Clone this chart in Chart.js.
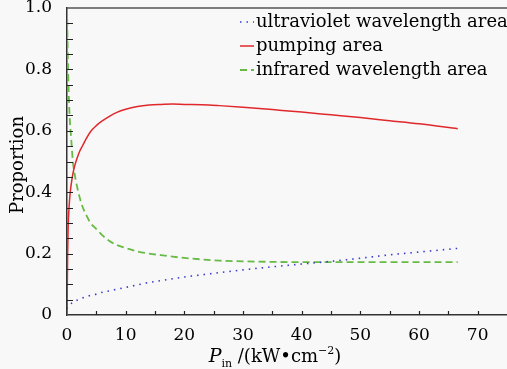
<!DOCTYPE html>
<html>
<head>
<meta charset="utf-8">
<script src="https://cdn.jsdelivr.net/npm/chart.js@4.4.0/dist/chart.umd.min.js"></script>
<style>
  html, body { margin: 0; padding: 0; background: #f8f8f8; }
  #wrap { width: 507px; height: 369px; overflow: hidden; }
</style>
</head>
<body>
<div id="wrap"><canvas id="chart" width="507" height="369"></canvas></div>
<script>
// values
const power = [0, 0.1, 0.2, 0.35, 0.5, 0.75, 1, 1.3, 1.7, 2.2, 2.7, 3.3, 4, 5, 6, 7.3, 8.5, 10, 12, 14, 16, 18, 20, 23, 26, 30, 35, 40, 45, 50, 55, 60, 66.6];
const ultraviolet = [0.02, 0.025, 0.028, 0.031, 0.034, 0.038, 0.041, 0.044, 0.048, 0.052, 0.056, 0.06, 0.064, 0.068, 0.074, 0.079, 0.084, 0.09, 0.098, 0.106, 0.112, 0.118, 0.124, 0.131, 0.138, 0.147, 0.157, 0.166, 0.175, 0.185, 0.196, 0.205, 0.217];
const pumping = [0.0, 0.19, 0.29, 0.35, 0.39, 0.43, 0.46, 0.485, 0.51, 0.535, 0.553, 0.575, 0.597, 0.617, 0.632, 0.648, 0.66, 0.67, 0.679, 0.684, 0.686, 0.687, 0.686, 0.685, 0.682, 0.677, 0.669, 0.661, 0.652, 0.643, 0.633, 0.623, 0.607];
const infrared = [1.0, 0.88, 0.79, 0.69, 0.63, 0.565, 0.5, 0.46, 0.42, 0.38, 0.35, 0.325, 0.3, 0.28, 0.26, 0.24, 0.228, 0.218, 0.207, 0.2, 0.195, 0.19, 0.186, 0.181, 0.177, 0.175, 0.173, 0.172, 0.172, 0.172, 0.172, 0.172, 0.172];
const seriesNames = ["ultraviolet wavelength area", "pumping area", "infrared wavelength area"];

const serif = "'DejaVu Serif', 'Liberation Serif', serif";

function pts(ys) { return power.map((x, i) => ({ x: x, y: ys[i] })); }

// inward ticks, top frame line, legend and axis titles
const decor = {
  id: "decor",
  afterDatasetsDraw(chart) {
    const ctx = chart.ctx, a = chart.chartArea;
    const xs = chart.scales.x, ys = chart.scales.y;
    ctx.save();
    ctx.strokeStyle = "#222";
    ctx.lineWidth = 1.2;
    ctx.beginPath();
    xs.ticks.forEach(t => {
      if (t.value <= 0 || t.value >= 75) return;
      const px = Math.round(xs.getPixelForValue(t.value)) + 0.5;
      ctx.moveTo(px, a.bottom); ctx.lineTo(px, a.bottom - 4);
    });
    ys.ticks.forEach(t => {
      if (t.value <= 0 || t.value >= 1) return;
      const py = Math.round(ys.getPixelForValue(t.value)) + 0.5;
      ctx.moveTo(a.left, py); ctx.lineTo(a.left + 6, py);
    });
    ctx.stroke();
    ctx.strokeStyle = "#555";
    ctx.lineWidth = 1.5;
    ctx.beginPath();
    ctx.moveTo(a.left, a.top); ctx.lineTo(a.right, a.top);
    ctx.stroke();

    // legend
    ctx.font = "18px " + serif;
    ctx.textBaseline = "middle";
    ctx.fillStyle = "#000";
    chart.data.datasets.forEach((ds, i) => {
      const y = 22 + i * 24;
      ctx.strokeStyle = ds.borderColor;
      ctx.lineWidth = ds.borderWidth;
      ctx.setLineDash(ds.borderDash || []);
      ctx.beginPath(); ctx.moveTo(240, y); ctx.lineTo(254, y); ctx.stroke();
      ctx.setLineDash([]);
      ctx.fillText(ds.label, 256, y);
    });

    // y title
    ctx.save();
    ctx.translate(18, 165);
    ctx.rotate(-Math.PI / 2);
    ctx.textAlign = "center";
    ctx.font = "18px " + serif;
    ctx.fillText("Proportion", 0, 0);
    ctx.restore();

    // x title: P_in /(kW•cm^-2)
    const base = 362;
    const parts = [
      { t: "P", f: "italic 19px " + serif, dy: 0 },
      { t: "in", f: "11px " + serif, dy: 5 },
      { t: " /(kW\u2022cm", f: "18px " + serif, dy: 0 },
      { t: "\u22122", f: "11px " + serif, dy: -8 },
      { t: ")", f: "18px " + serif, dy: 0 }
    ];
    ctx.textBaseline = "alphabetic";
    let total = 0;
    parts.forEach(p => { ctx.font = p.f; p.w = ctx.measureText(p.t).width; total += p.w; });
    let x = 275 - total / 2;
    parts.forEach(p => { ctx.font = p.f; ctx.fillText(p.t, x, base + p.dy); x += p.w; });
    ctx.restore();
  }
};

new Chart(document.getElementById("chart"), {
  type: "line",
  data: {
    datasets: [
      { label: seriesNames[0], data: pts(ultraviolet), borderColor: "#3a3ad0", borderWidth: 1.6, borderDash: [1.5, 5] },
      { label: seriesNames[1], data: pts(pumping), borderColor: "#e0282c", borderWidth: 1.5 },
      { label: seriesNames[2], data: pts(infrared), borderColor: "#66bb44", borderWidth: 1.8, borderDash: [7, 4] }
    ]
  },
  options: {
    responsive: false,
    animation: false,
    devicePixelRatio: 1,
    elements: { point: { radius: 0 }, line: { cubicInterpolationMode: "monotone" } },
    layout: { padding: { top: 8, right: 0, bottom: 0, left: 0 } },
    plugins: { legend: { display: false }, tooltip: { enabled: false } },
    scales: {
      x: {
        type: "linear", min: 0, max: 75,
        grid: { display: false },
        border: { display: true, color: "#333", width: 1.5 },
        ticks: {
          stepSize: 5, maxRotation: 0, autoSkip: false, padding: 2, color: "#000",
          font: { family: serif, size: 17 },
          callback: v => (v % 10 === 0 ? String(v) : "")
        },
        afterFit: s => { s.height = 54; s.paddingLeft = 0; s.paddingRight = 0; }
      },
      y: {
        min: 0, max: 1,
        grid: { display: false },
        border: { display: true, color: "#333", width: 1.5 },
        ticks: {
          stepSize: 0.05, autoSkip: false, padding: 7, color: "#000",
          font: { family: serif, size: 17 },
          callback: v => {
            const k = v / 0.2;
            if (Math.abs(k - Math.round(k)) > 1e-6) return "";
            return v === 0 ? "0" : v.toFixed(1);
          }
        },
        afterFit: s => { s.width = 67; s.paddingTop = 0; s.paddingBottom = 0; }
      }
    }
  },
  plugins: [decor]
});
</script>
</body>
</html>
